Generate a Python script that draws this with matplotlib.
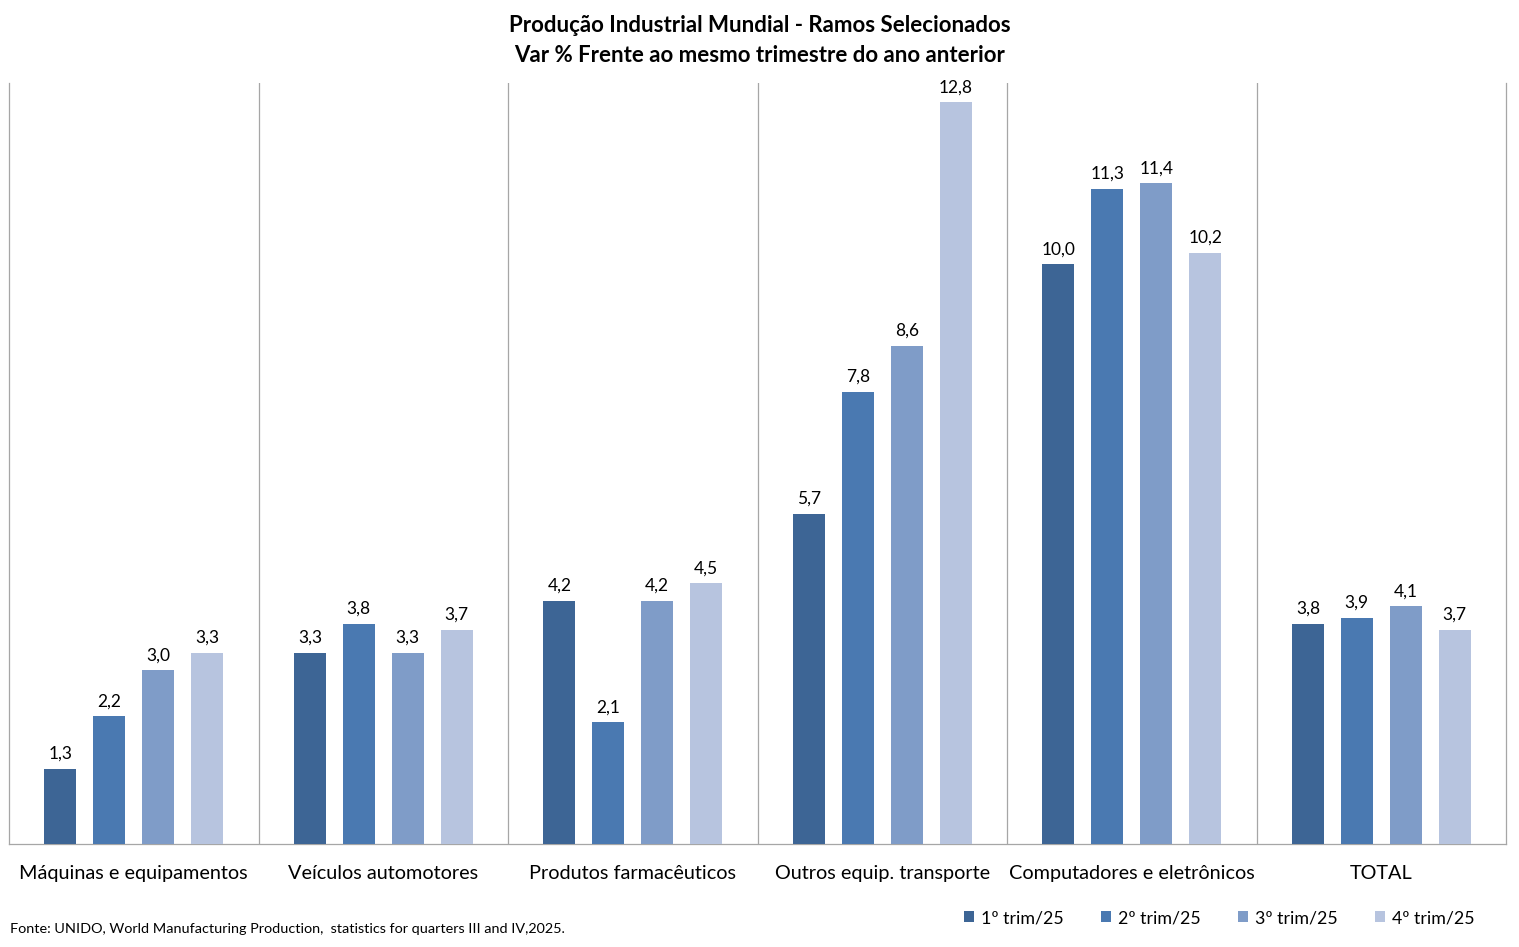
import matplotlib.pyplot as plt
import numpy as np

plt.rcParams["font.family"] = ["Lato", "DejaVu Sans"]

categories = [
    "Máquinas e equipamentos",
    "Veículos automotores",
    "Produtos farmacêuticos",
    "Outros equip. transporte",
    "Computadores e eletrônicos",
    "TOTAL",
]
series_names = ["1º trim/25", "2º trim/25", "3º trim/25", "4º trim/25"]
q1 = [1.3, 3.3, 4.2, 5.7, 10.0, 3.8]
q2 = [2.2, 3.8, 2.1, 7.8, 11.3, 3.9]
q3 = [3.0, 3.3, 4.2, 8.6, 11.4, 4.1]
q4 = [3.3, 3.7, 4.5, 12.8, 10.2, 3.7]
colors = ["#3D6595", "#4A79B1", "#7F9CC8", "#B7C4DF"]

W, H = 1519, 947
fig = plt.figure(figsize=(W / 100, H / 100), dpi=100)
ax = fig.add_axes([9 / W, (H - 844) / H, (1506 - 9) / W, (844 - 83) / H])

x = np.arange(len(categories))
pitch = 0.196
width = 0.128
for i, (vals, name, col) in enumerate(zip([q1, q2, q3, q4], series_names, colors)):
    pos = x + (i - 1.5) * pitch
    bars = ax.bar(pos, vals, width=width, color=col, label=name, zorder=3)
    for b, v in zip(bars, vals):
        ax.text(b.get_x() + b.get_width() / 2, v + 0.12, f"{v:.1f}".replace(".", ","),
                ha="center", va="bottom", fontsize=12.5, color="#000000")

ax.set_xlim(-0.5, len(categories) - 0.5)
ax.set_ylim(0, 13.13)
for xv in np.arange(0.5, len(categories) - 0.5, 1):
    ax.axvline(xv, color="#A6A6A6", lw=0.9, zorder=1)

ax.spines["top"].set_visible(False)
for s in ["left", "right", "bottom"]:
    ax.spines[s].set_color("#A6A6A6")
    ax.spines[s].set_linewidth(0.9)
ax.set_yticks([])
ax.set_xticks(x)
ax.set_xticklabels(categories, fontsize=14.3)
ax.tick_params(axis="x", length=0, pad=15)

fig.text(0.5, 1 - 26 / H, "Produção Industrial Mundial - Ramos Selecionados",
         ha="center", va="center", fontsize=16, fontweight="bold")
fig.text(0.5, 1 - 55 / H, "Var % Frente ao mesmo trimestre do ano anterior",
         ha="center", va="center", fontsize=16, fontweight="bold")

fig.text(10 / W, 1 - 929 / H,
         "Fonte: UNIDO, World Manufacturing Production,  statistics for quarters III and IV,2025.",
         ha="left", va="center", fontsize=10.4)

fig.legend(loc="center right", bbox_to_anchor=(1491 / W, 1 - 918 / H), ncol=4,
           frameon=False, fontsize=12.8, handlelength=0.6, handleheight=0.6,
           handletextpad=0.4, columnspacing=2.05)

fig.savefig("out.png", dpi=100)
